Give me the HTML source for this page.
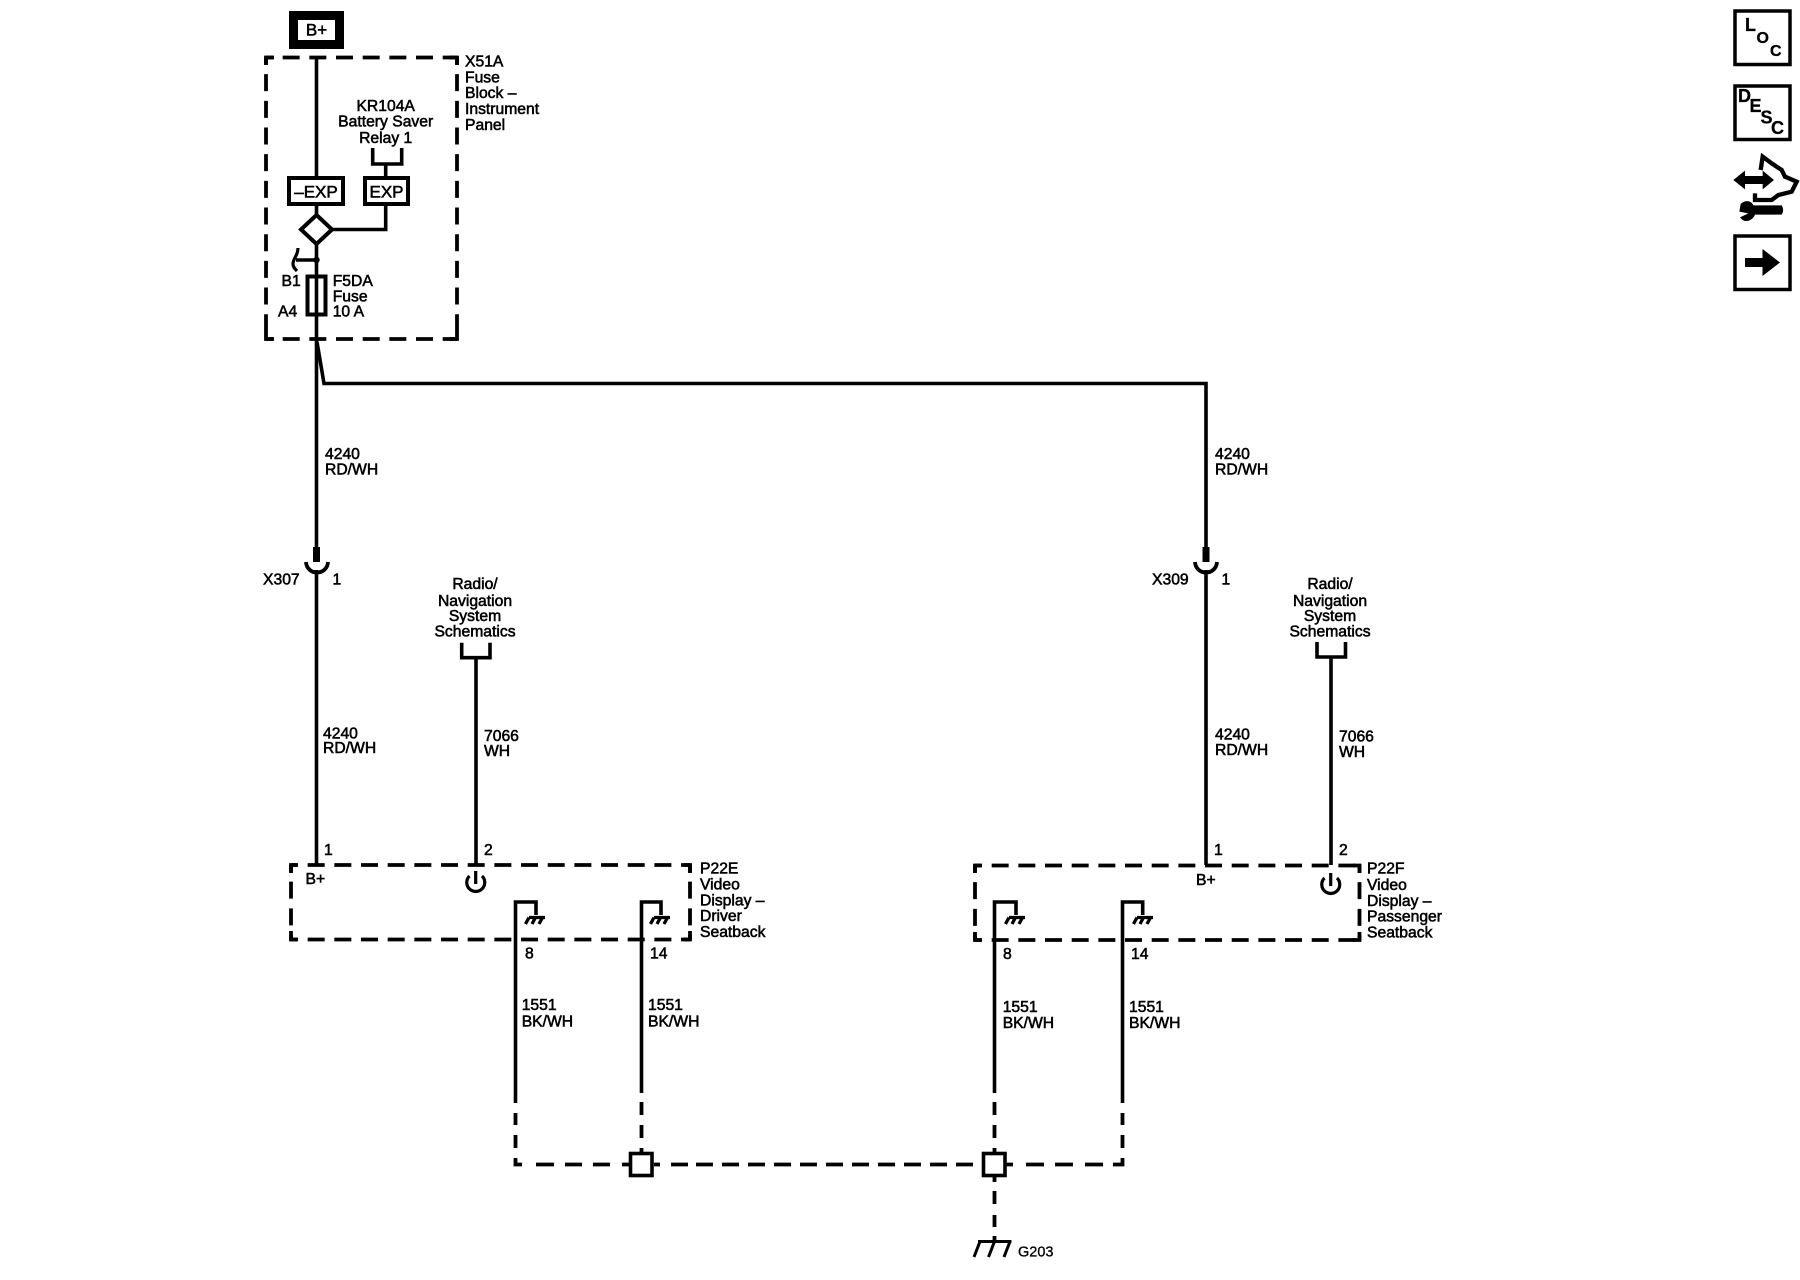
<!DOCTYPE html>
<html>
<head>
<meta charset="utf-8">
<style>
html,body{margin:0;padding:0;background:#fff}
svg{display:block}
text{font-family:"Liberation Sans",Arial,sans-serif;font-size:15.7px;fill:#000;stroke:#000;stroke-width:.55}
.m{text-anchor:middle}
.w{fill:none;stroke:#000;stroke-width:3.6}
.b{fill:#fff;stroke:#000;stroke-width:4}
.d{fill:none;stroke:#000;stroke-width:3.800;stroke-dasharray:17 9.67;stroke-dashoffset:10}
.c{fill:none;stroke:#000;stroke-width:3.800}
.i{font-weight:bold;font-size:18px;stroke-width:.3}
</style>
</head>
<body>
<svg width="1800" height="1280" viewBox="0 0 1800 1280" xmlns="http://www.w3.org/2000/svg">
<rect width="1800" height="1280" fill="#fff"/>

<!-- B+ top -->
<rect x="293.500" y="15.500" width="46" height="29" fill="#fff" stroke="#000" stroke-width="9"/>
<text x="316.500" y="35.500" class="m" style="font-size:17px">B+</text>

<!-- X51A box -->
<path class="d" d="M266 57.500H457"/><path class="d" d="M266 339H457"/>
<path class="d" d="M266 57.500V339"/><path class="d" d="M457 57.500V339"/>
<path class="c" d="M274 57.500H266V65M449 57.500H457V65M266 331V339H274M449 339H457V331"/>
<text x="465" y="66.700">X51A</text>
<text x="465" y="82.700">Fuse</text>
<text x="465" y="98">Block –</text>
<text x="465" y="114">Instrument</text>
<text x="465" y="130">Panel</text>

<text x="385.700" y="111" class="m">KR104A</text>
<text x="385.700" y="126.700" class="m">Battery Saver</text>
<text x="385.700" y="143" class="m">Relay 1</text>
<path class="w" d="M372.700 148V164H401.700V148M385.700 164V176"/>

<path class="w" d="M316.500 56V176"/>
<rect class="b" x="289" y="178" width="54" height="26"/>
<rect class="b" x="365" y="178" width="43" height="26"/>
<text x="316" y="197.500" class="m" style="font-size:17px">–EXP</text>
<text x="386.500" y="197.500" class="m" style="font-size:17px">EXP</text>

<path class="w" d="M316.500 206V216"/>
<path class="b" d="M316.500 215L332 229.500L316.500 244L301 229.500Z"/>
<path class="w" d="M332 229.500H385.700V206"/>
<path class="w" d="M316.500 244V560"/>

<circle cx="316.500" cy="260" r="3.200"/>
<path class="w" d="M316.500 260H296"/>
<path fill="none" stroke="#000" stroke-width="3.200" d="M298 248C298 256 293 258 293 264C293 267 295 269 297 271"/>

<rect class="b" x="307.500" y="276.500" width="18" height="38" fill="none"/>
<path class="w" d="M316.500 276V316"/>
<text x="281.500" y="286">B1</text>
<text x="278" y="316.700">A4</text>
<text x="332.700" y="286">F5DA</text>
<text x="332.700" y="301.700">Fuse</text>
<text x="332.700" y="316.700">10 A</text>

<path class="w" d="M317 342L324 383.500H1206V560"/>

<text x="325" y="459">4240</text><text x="325" y="474.500">RD/WH</text>
<text x="1215" y="459">4240</text><text x="1215" y="474.500">RD/WH</text>

<!-- X307 / X309 -->
<path d="M313 547h7v15h-7z"/>
<path class="c" d="M306 562C307 576 327 576 328 562"/>
<path class="w" d="M316.500 570V865"/>
<path d="M1202.500 547h7v15h-7z"/>
<path class="c" d="M1195 562C1196 576 1216 576 1217 562"/>
<path class="w" d="M1206 570V865"/>
<text x="263" y="584.500">X307</text><text x="332.500" y="584.500">1</text>
<text x="1152" y="584.500">X309</text><text x="1221.500" y="584.500">1</text>

<!-- Radio left -->
<text x="475" y="589" class="m">Radio/</text>
<text x="475" y="606" class="m">Navigation</text>
<text x="475" y="621" class="m">System</text>
<text x="475" y="636.700" class="m">Schematics</text>
<path class="w" d="M461.700 642.700V657.700H490V642.700M476 657.700V865"/>
<!-- Radio right -->
<text x="1330" y="589" class="m">Radio/</text>
<text x="1330" y="606" class="m">Navigation</text>
<text x="1330" y="621" class="m">System</text>
<text x="1330" y="636.500" class="m">Schematics</text>
<path class="w" d="M1317 642V657H1345.500V642M1331 657V865"/>

<text x="323" y="738.500">4240</text><text x="323" y="753">RD/WH</text>
<text x="484" y="741">7066</text><text x="484" y="756">WH</text>
<text x="1215" y="739.500">4240</text><text x="1215" y="755">RD/WH</text>
<text x="1339" y="741.500">7066</text><text x="1339" y="757">WH</text>

<!-- P22E box -->
<path class="d" d="M291 865H690"/><path class="d" d="M291 939.500H690"/>
<path class="d" d="M291 865V939.500"/><path class="d" d="M690 865V939.500"/>
<path class="c" d="M297 865H291V873M684 865H690V873M291 931V939.500H297M684 939.500H690V931"/>
<text x="324" y="855">1</text><text x="484" y="855">2</text>
<text x="305.500" y="884">B+</text>
<path fill="none" stroke="#000" stroke-width="3.200" d="M469.500 876A9 9 0 1 0 482 876"/><path fill="none" stroke="#000" stroke-width="3.200" d="M475.700 871V884"/>
<text x="700" y="873.500">P22E</text>
<text x="700" y="889.500">Video</text>
<text x="700" y="905.500">Display –</text>
<text x="700" y="921">Driver</text>
<text x="700" y="937">Seatback</text>

<!-- P22F box -->
<path class="d" d="M975 865.500H1359.500"/><path class="d" d="M975 940H1359.500"/>
<path class="d" d="M975 865.500V940"/><path class="d" d="M1359.500 865.500V940"/>
<path class="c" d="M981 865.500H975V873M1353 865.500H1359.500V873M975 932V940H981M1353 940H1359.500V932"/>
<text x="1214" y="855">1</text><text x="1339" y="855">2</text>
<text x="1196" y="885">B+</text>
<path fill="none" stroke="#000" stroke-width="3.200" d="M1324.500 878A9 9 0 1 0 1337 878"/><path fill="none" stroke="#000" stroke-width="3.200" d="M1330.700 873V886"/>
<text x="1367" y="873.500">P22F</text>
<text x="1367" y="890">Video</text>
<text x="1367" y="906">Display –</text>
<text x="1367" y="921.700">Passenger</text>
<text x="1367" y="937.500">Seatback</text>

<!-- ground wires -->
<path class="w" d="M536 915V902H515.500V1103"/>
<path class="w" d="M661 915V902H641.500V1093"/>
<path class="w" d="M1016 915V902H994.500V1093"/>
<path class="w" d="M1142.700 915V902H1122.500V1103"/>
<g fill="none" stroke="#000" stroke-width="3.300">
<path d="M529 917.500H545M529 917.500L525.500 924M535.500 917.500L532 924M542.500 917.500L539 924"/>
<path d="M529 917.500H545M529 917.500L525.500 924M535.500 917.500L532 924M542.500 917.500L539 924" transform="translate(125,0)"/>
<path d="M529 917.500H545M529 917.500L525.500 924M535.500 917.500L532 924M542.500 917.500L539 924" transform="translate(480,0)"/>
<path d="M529 917.500H545M529 917.500L525.500 924M535.500 917.500L532 924M542.500 917.500L539 924" transform="translate(608,0)"/>
</g>
<text x="525" y="958.500">8</text><text x="650" y="958.500">14</text>
<text x="1003" y="959">8</text><text x="1131" y="959">14</text>
<text x="521.700" y="1010">1551</text><text x="521.700" y="1026.700">BK/WH</text>
<text x="648" y="1010">1551</text><text x="648" y="1026.700">BK/WH</text>
<text x="1002.700" y="1012">1551</text><text x="1002.700" y="1028">BK/WH</text>
<text x="1129" y="1012">1551</text><text x="1129" y="1028">BK/WH</text>

<!-- dashed ground net -->
<g fill="none" stroke="#000" stroke-width="3.800">
<path d="M515.500 1113V1125M515.500 1135V1148M515.500 1158V1164.500H522M536 1164.500H554M565 1164.500H582M593 1164.500H610M622 1164.500H630"/>
<path d="M641.500 1102V1115M641.500 1125V1138M641.500 1148V1152"/>
<path d="M654 1164.500H660M671 1164.500H688M696 1164.500H713M722 1164.500H739M748 1164.500H765M774 1164.500H791M800 1164.500H817M826 1164.500H843M852 1164.500H869M878 1164.500H895M904 1164.500H921M930 1164.500H947M956 1164.500H973"/>
<path d="M994.500 1102V1115M994.500 1125V1138M994.500 1148V1152M994.500 1177V1182M994.500 1191V1204M994.500 1215V1227M994.500 1236V1241"/>
<path d="M1006 1164.500H1013M1026 1164.500H1044M1055 1164.500H1073M1085 1164.500H1103M1113 1164.500H1122.500V1158M1122.500 1148V1135M1122.500 1125V1113"/>
</g>
<rect x="630.500" y="1153.500" width="21.500" height="22" fill="#fff" stroke="#000" stroke-width="3.600"/>
<rect x="983.500" y="1153.500" width="21.500" height="22" fill="#fff" stroke="#000" stroke-width="3.600"/>

<!-- G203 ground -->
<g fill="none" stroke="#000" stroke-width="3">
<path d="M978 1241.500H1011.500M980 1241.500L974 1257M994.500 1241.500L988.500 1257M1010 1241.500L1004 1257"/>
</g>
<text x="1018" y="1256.500" style="font-size:14.500px;stroke-width:.3">G203</text>

<!-- right icons -->
<rect x="1735" y="11" width="55" height="53.500" fill="#fff" stroke="#000" stroke-width="3.500"/>
<text x="1745" y="31" class="i">L</text>
<text x="1756.500" y="43" class="i" style="font-size:16px">O</text>
<text x="1770" y="56" class="i" style="font-size:16px">C</text>
<rect x="1735" y="86" width="55" height="53.500" fill="#fff" stroke="#000" stroke-width="3.500"/>
<text x="1738" y="102" class="i">D</text>
<text x="1749.500" y="112" class="i">E</text>
<text x="1760.500" y="123.500" class="i">S</text>
<text x="1771" y="134" class="i">C</text>
<rect x="1735" y="236" width="55" height="53.500" fill="#fff" stroke="#000" stroke-width="3.500"/>
<path d="M1745 258H1762.500V249L1780 262.500L1762.500 276V267H1745Z"/>

<g transform="translate(1700,0) scale(.33333)">
<path d="M100 540L135 512V528H188V512L222 540L188 568V552H135V568Z"/>
<path d="M182 510L188 470L215 490L245 510L255 530L290 545L275 575L235 585L215 600H165V580" fill="none" stroke="#000" stroke-width="13"/>
<path d="M160 616H245Q254 630 245 644H165C158 662 135 672 120 652L145 640L118 635L122 612C135 598 155 602 160 616Z"/>
</g>
</svg>
</body>
</html>
